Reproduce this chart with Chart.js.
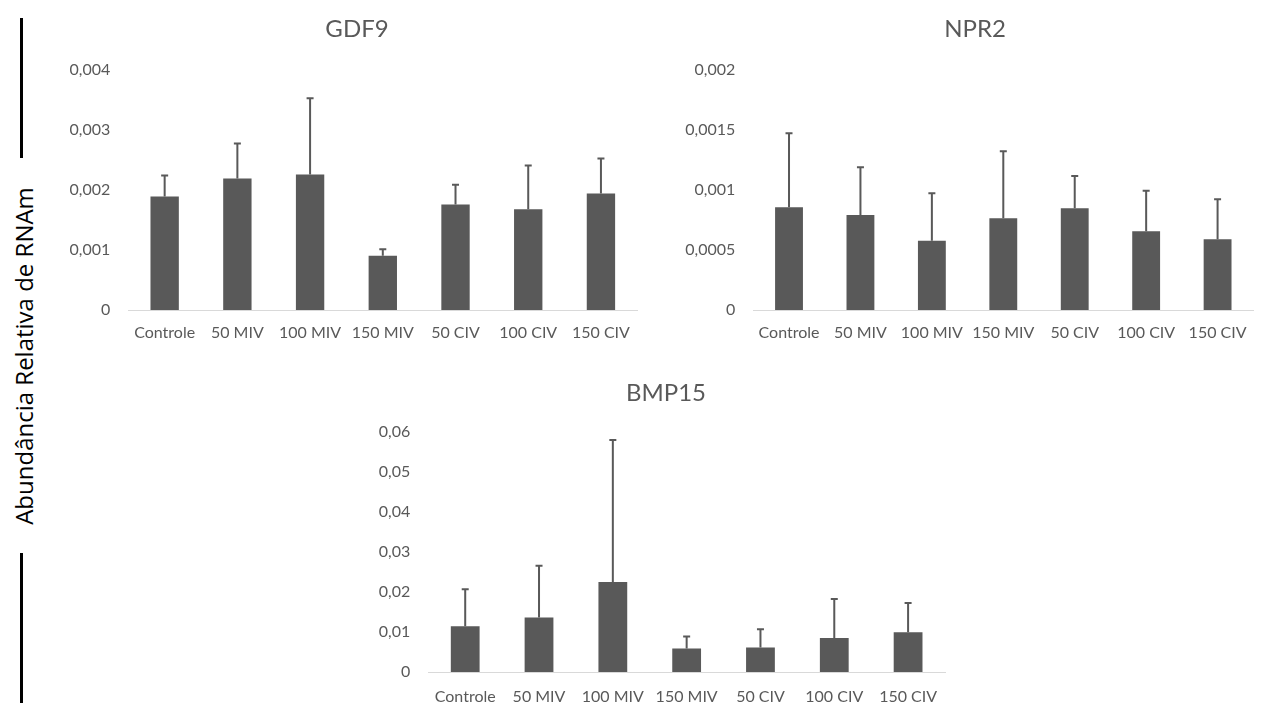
<!DOCTYPE html>
<html>
<head>
<meta charset="utf-8">
<script src="https://cdn.jsdelivr.net/npm/chart.js@4.4.1/dist/chart.umd.min.js"></script>
<style>
  body { margin: 0; background: #fff; }
  #page { position: relative; width: 1261px; height: 706px; overflow: hidden; }
  .box { position: absolute; }
  .rule { position: absolute; background: #000; width: 3px; }
  .title {
    position: absolute; transform: translateX(-50%);
    font-family: 'Lato', sans-serif; font-size: 24px; line-height: 28px;
    color: #595959; white-space: nowrap;
  }
  #ylabel {
    position: absolute; left: 24px; top: 356px;
    transform: translate(-50%, -50%) rotate(-90deg);
    font-family: 'Open Sans', sans-serif; font-size: 24px; line-height: 24px;
    color: #000; white-space: nowrap;
  }
</style>
</head>
<body>
<div id="page">
  <div class="rule" style="left:20px; top:18px; height:140px;"></div>
  <div id="ylabel">Abundância Relativa de RNAm</div>
  <div class="rule" style="left:20px; top:553px; height:150px;"></div>

  <div class="box" style="left:67px; top:0px;"><canvas id="chart-gdf9" width="580" height="350"></canvas></div>
  <div class="box" style="left:680px; top:0px;"><canvas id="chart-npr2" width="581" height="350"></canvas></div>
  <div class="box" style="left:376px; top:362px;"><canvas id="chart-bmp15" width="580" height="344"></canvas></div>

  <div class="title" style="left:357px; top:14px;">GDF9</div>
  <div class="title" style="left:975px; top:14px;">NPR2</div>
  <div class="title" style="left:666px; top:378px;">BMP15</div>
</div>

<script>
const categories = ['Controle', '50 MIV', '100 MIV', '150 MIV', '50 CIV', '100 CIV', '150 CIV'];

// GDF9
const gdf9Mean = [0.00189, 0.00219, 0.00226, 0.000906, 0.00176, 0.00168, 0.00194];
const gdf9Sd = [0.00035, 0.000584, 0.00127, 0.000105, 0.000328, 0.000728, 0.000583];
const gdf9Ticks = [0, 0.001, 0.002, 0.003, 0.004];

// NPR2
const npr2Mean = [0.000856, 0.000792, 0.000578, 0.000764, 0.000847, 0.000656, 0.000589];
const npr2Sd = [0.000616, 0.000397, 0.000394, 0.000558, 0.00027, 0.000338, 0.000333];
const npr2Ticks = [0, 0.0005, 0.001, 0.0015, 0.002];

// BMP15
const bmp15Mean = [0.01143, 0.0136, 0.0225, 0.00585, 0.0061, 0.0085, 0.00993];
const bmp15Sd = [0.00925, 0.0129, 0.0354, 0.003, 0.00458, 0.00975, 0.00732];
const bmp15Ticks = [0, 0.01, 0.02, 0.03, 0.04, 0.05, 0.06];

const GREY = '#595959';

// desvio padrão (só para cima)
const errorBars = {
  id: 'errorBars',
  afterDatasetsDraw(chart, args, opts) {
    const ctx = chart.ctx;
    const y = chart.scales.y;
    const meta = chart.getDatasetMeta(0);
    const data = chart.data.datasets[0].data;
    ctx.save();
    ctx.strokeStyle = opts.color;
    ctx.lineWidth = 2;
    meta.data.forEach((bar, i) => {
      const top = y.getPixelForValue(data[i] + opts.sd[i]);
      ctx.beginPath();
      ctx.moveTo(bar.x, bar.y);
      ctx.lineTo(bar.x, top);
      ctx.moveTo(bar.x - 3.5, top);
      ctx.lineTo(bar.x + 3.5, top);
      ctx.stroke();
    });
    ctx.restore();
  }
};

function fmt(v) {
  return String(v).replace('.', ',');
}

function makeChart(id, mean, sd, ticks, lay) {
  return new Chart(document.getElementById(id), {
    type: 'bar',
    data: {
      labels: categories,
      datasets: [{
        data: mean,
        backgroundColor: GREY,
        barPercentage: 0.39,
        categoryPercentage: 1
      }]
    },
    plugins: [errorBars],
    options: {
      responsive: false,
      animation: false,
      layout: { padding: { left: 0, right: lay.padRight, top: lay.padTop, bottom: 0 } },
      plugins: {
        legend: { display: false },
        tooltip: { enabled: false },
        title: { display: false },
        errorBars: { sd: sd, color: GREY }
      },
      scales: {
        x: {
          grid: { display: false, drawTicks: false },
          border: { display: true, color: '#d9d9d9', width: 1 },
          ticks: { color: GREY, font: { family: 'Lato', size: 16 }, padding: lay.xPad, maxRotation: 0, autoSkip: false },
          afterFit: s => { s.height = lay.xHeight; }
        },
        y: {
          min: ticks[0],
          max: ticks[ticks.length - 1],
          grid: { display: false, drawTicks: false },
          border: { display: false },
          afterBuildTicks: s => { s.ticks = ticks.map(v => ({ value: v })); },
          ticks: { color: GREY, font: { family: 'Lato', size: 16 }, padding: 18, callback: v => fmt(v) },
          afterFit: s => { s.width = lay.yWidth; }
        }
      }
    }
  });
}

makeChart('chart-gdf9', gdf9Mean, gdf9Sd, gdf9Ticks,
  { padRight: 9.7, padTop: 70, yWidth: 61.3, xHeight: 40, xPad: 13 });
makeChart('chart-npr2', npr2Mean, npr2Sd, npr2Ticks,
  { padRight: 7.7, padTop: 70, yWidth: 73.3, xHeight: 40, xPad: 13 });
makeChart('chart-bmp15', bmp15Mean, bmp15Sd, bmp15Ticks,
  { padRight: 11, padTop: 69.7, yWidth: 52.3, xHeight: 34, xPad: 15 });
</script>
</body>
</html>
